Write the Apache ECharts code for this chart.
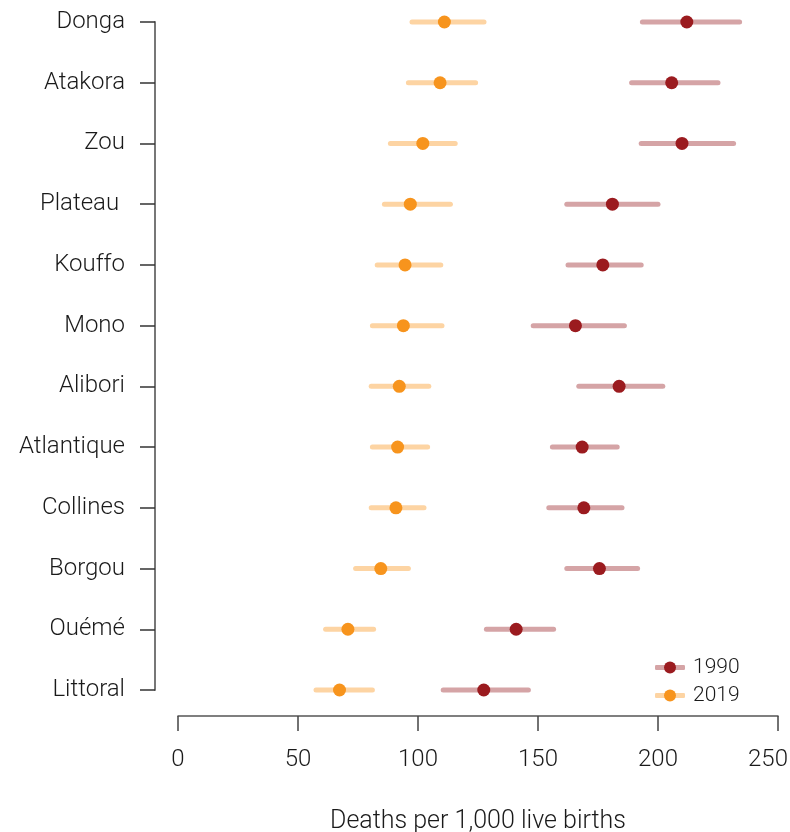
<!DOCTYPE html>
<html>
<head>
<meta charset="utf-8">
<script src="https://cdn.jsdelivr.net/npm/echarts@6/dist/echarts.min.js"></script>
<style>html,body{margin:0;padding:0;background:#fff;}#c{width:790px;height:832px;}</style>
</head>
<body>
<div id="c"></div>
<script>
var categories = ['Donga','Atakora','Zou','Plateau ','Kouffo','Mono','Alibori','Atlantique','Collines','Borgou','Ouémé','Littoral'];
var est1990 = [212, 205.7, 210, 181, 177, 165.6, 183.8, 168.4, 169.1, 175.6, 140.9, 127.4];
var lo1990  = [193.5, 189, 193, 162, 162.5, 148, 167, 156, 154.5, 162, 128.5, 110.5];
var hi1990  = [234, 225, 231.5, 200, 193, 186, 202, 183, 185, 191.5, 156.5, 146];
var est2019 = [111, 109.2, 102, 96.8, 94.6, 93.9, 92.2, 91.5, 90.8, 84.5, 70.8, 67.3];
var lo2019  = [97.5, 96, 88.5, 86, 83, 81, 80.5, 81, 80.5, 74, 61.5, 57.5];
var hi2019  = [127.5, 124, 115.5, 113.5, 109.5, 110, 104.5, 104, 102.5, 96, 81.5, 81];
var xTicks = [0, 50, 100, 150, 200, 250];

var C1990 = '#9B1B1F', C2019 = '#F7941D', L1990 = '#D5A4A6', L2019 = '#FDD4A3';
var FONT = 'Roboto, "Liberation Sans", sans-serif';
var XMAX = xTicks[xTicks.length - 1];

function ciData(lo, hi) { return categories.map(function (c, i) { return [lo[i], hi[i], i]; }); }
function ptData(v) { return categories.map(function (c, i) { return [v[i], c]; }); }
function ciRender(color) {
  return function (params, api) {
    var a = api.coord([api.value(0), api.value(2)]);
    var b = api.coord([api.value(1), api.value(2)]);
    return { type: 'line', shape: { x1: a[0], y1: a[1], x2: b[0], y2: b[1] },
             style: { stroke: color, lineWidth: 5, lineCap: 'round' } };
  };
}

var chart = echarts.init(document.getElementById('c'));
chart.setOption({
  animation: false,
  grid: { left: 178, right: 12, top: 22, bottom: 142, containLabel: false, outerBoundsMode: 'none' },
  xAxis: {
    type: 'value', min: xTicks[0], max: XMAX, interval: 50,
    offset: 26,
    splitLine: { show: false },
    axisLine: { show: true, onZero: false, lineStyle: { color: '#555', width: 1.5 } },
    axisTick: { show: true, length: 15, lineStyle: { color: '#444', width: 1.5 } },
    axisLabel: {
      fontSize: 24, fontWeight: 300, color: '#1a1a1a', fontFamily: FONT, margin: 32,
      formatter: function (v) { return v === XMAX ? '{r|' + v + '}' : String(v); },
      rich: { r: { fontSize: 24, fontWeight: 300, color: '#1a1a1a', fontFamily: FONT, padding: [0, 20, 0, 0] } }
    },
    name: 'Deaths per 1,000 live births', nameLocation: 'middle', nameGap: 93,
    nameTextStyle: { fontSize: 25, fontWeight: 300, color: '#1a1a1a', fontFamily: FONT }
  },
  yAxis: {
    type: 'category', data: categories, inverse: true, boundaryGap: false,
    offset: 23,
    axisLine: { show: true, onZero: false, lineStyle: { color: '#777', width: 2 } },
    axisTick: { show: true, length: 15, alignWithLabel: true, lineStyle: { color: '#333', width: 1.5 } },
    axisLabel: { fontSize: 24, fontWeight: 300, color: '#1a1a1a', fontFamily: FONT, margin: 30 },
    splitLine: { show: false }
  },
  legend: [{
    orient: 'vertical', left: 650, top: 652, itemWidth: 30, itemHeight: 5, itemGap: 7,
    icon: 'roundRect', selectedMode: false,
    textStyle: { fontSize: 21, lineHeight: 21, fontWeight: 300, color: '#1a1a1a', fontFamily: FONT, padding: [0, 0, 0, 3] },
    data: [{ name: '1990', itemStyle: { color: L1990 } }, { name: '2019', itemStyle: { color: L2019 } }]
  }, {
    orient: 'vertical', left: 659, top: 652, itemWidth: 12, itemHeight: 12, itemGap: 7,
    icon: 'circle', selectedMode: false,
    textStyle: { fontSize: 21, lineHeight: 21, color: 'rgba(0,0,0,0)', fontFamily: FONT },
    data: [{ name: '1990 estimate', itemStyle: { color: C1990 } }, { name: '2019 estimate', itemStyle: { color: C2019 } }]
  }],
  series: [
    { name: '1990', type: 'custom', renderItem: ciRender(L1990), itemStyle: { color: L1990 },
      encode: { x: [0, 1], y: 2 }, data: ciData(lo1990, hi1990), z: 2 },
    { name: '2019', type: 'custom', renderItem: ciRender(L2019), itemStyle: { color: L2019 },
      encode: { x: [0, 1], y: 2 }, data: ciData(lo2019, hi2019), z: 2 },
    { name: '1990 estimate', type: 'scatter', symbol: 'circle', symbolSize: 13,
      itemStyle: { color: C1990, opacity: 1 }, data: ptData(est1990), z: 5 },
    { name: '2019 estimate', type: 'scatter', symbol: 'circle', symbolSize: 13,
      itemStyle: { color: C2019, opacity: 1 }, data: ptData(est2019), z: 5 }
  ]
});
</script>
</body>
</html>
